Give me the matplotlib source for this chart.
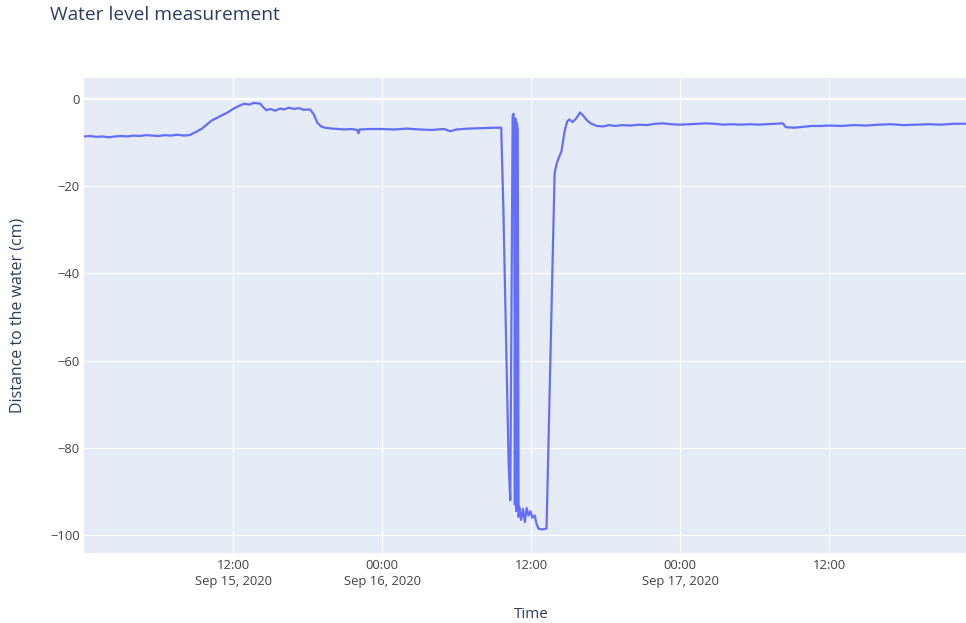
import numpy as np
import pandas as pd
import matplotlib

matplotlib.use('Agg')

import matplotlib.pyplot as plt

# hours after 2020-09-15 00:00 and distance to the water (cm)
hours = [
    0.0, 0.5, 1.0, 1.5, 2.0, 2.5, 3.0, 3.5, 4.0, 4.5, 5.0, 5.5, 6.0, 6.5, 7.0,
    7.5, 8.0, 8.5, 9.0, 9.5, 10.0, 10.3, 10.6, 11.0, 11.5, 12.0, 12.4, 12.9,
    13.3, 13.7, 14.2, 14.4, 14.7, 15.0, 15.4, 15.8, 16.1, 16.5, 16.9, 17.3,
    17.7, 18.2, 18.5, 18.8, 19.1, 19.4, 20.0, 20.5, 21.0, 21.5, 22.0, 22.1,
    22.2, 23.0, 24.0, 25.0, 26.0, 27.0, 28.0, 29.0, 29.5, 30.0, 31.0, 32.0,
    33.0, 33.6, 33.72, 33.78, 34.2, 34.33, 34.52, 34.58, 34.64, 34.70, 34.74,
    34.80, 34.86, 34.93, 35.0, 35.05, 35.2, 35.35, 35.5, 35.65, 35.8, 35.95,
    36.1, 36.3, 36.45, 36.6, 36.9, 37.1, 37.25, 37.9, 38.1, 38.45, 38.7, 38.9,
    39.1, 39.35, 39.6, 39.95, 40.2, 40.5, 40.8, 41.3, 41.8, 42.3, 42.8, 43.3,
    44.0, 44.7, 45.3, 46.0, 46.6, 47.3, 48.0, 48.7, 49.4, 50.1, 50.8, 51.5,
    52.2, 52.9, 53.6, 54.3, 55.0, 55.7, 56.3, 56.45, 56.6, 57.2, 57.9, 58.6,
    59.3, 60.0, 61.0, 62.0, 63.0, 64.0, 65.0, 66.0, 67.0, 68.0, 69.0, 70.0,
    71.0, 72.0,
]
distance = [
    -8.6, -8.5, -8.7, -8.6, -8.8, -8.6, -8.5, -8.6, -8.4, -8.5, -8.3, -8.4,
    -8.5, -8.3, -8.4, -8.2, -8.4, -8.3, -7.6, -6.8, -5.6, -4.9, -4.5, -3.9,
    -3.2, -2.3, -1.7, -1.1, -1.3, -0.9, -1.1, -1.8, -2.6, -2.3, -2.7, -2.2,
    -2.4, -2.0, -2.3, -2.1, -2.5, -2.4, -3.5, -5.5, -6.3, -6.6, -6.8, -6.9,
    -7.0, -6.9, -7.1, -7.9, -7.0, -6.9, -6.9, -7.0, -6.8, -7.0, -7.1, -6.9,
    -7.4, -7.0, -6.8, -6.7, -6.6, -6.6, -20.0, -26.0, -84.0, -92.0, -4.0,
    -3.4, -4.8, -93.0, -4.5, -94.5, -5.5, -7.0, -95.8, -93.5, -96.5, -94.0,
    -97.0, -93.8, -95.5, -94.5, -96.0, -95.5, -97.5, -98.5, -98.7, -98.6,
    -98.5, -17.0, -14.5, -12.0, -7.5, -5.2, -4.7, -5.3, -4.6, -3.1, -3.8,
    -4.9, -5.6, -6.2, -6.3, -6.0, -6.2, -6.0, -6.1, -5.9, -6.0, -5.7, -5.6,
    -5.8, -5.9, -5.8, -5.7, -5.6, -5.7, -5.9, -5.8, -5.9, -5.8, -5.9, -5.8,
    -5.7, -5.6, -6.3, -6.5, -6.6, -6.4, -6.2, -6.2, -6.1, -6.2, -6.0, -6.1,
    -5.9, -5.8, -6.0, -5.9, -5.8, -5.9, -5.7, -5.7, -5.6,
]

start = pd.Timestamp('2020-09-15 00:00')
times = start + pd.to_timedelta(hours, unit='h')

xtick_times = pd.to_datetime(['2020-09-15 12:00', '2020-09-16 00:00', '2020-09-16 12:00',
                              '2020-09-17 00:00', '2020-09-17 12:00'])
xtick_labels = ['12:00\nSep 15, 2020', '00:00\nSep 16, 2020', '12:00',
                '00:00\nSep 17, 2020', '12:00']
ytick_values = [0, -20, -40, -60, -80, -100]

plt.rcParams['font.family'] = ['Open Sans', 'DejaVu Sans']
text_color = '#2a3f5f'

W, H = 966, 623
fig = plt.figure(figsize=(W / 100, H / 100), dpi=100)
left, right, top, bottom = 84, 966, 78, 553
ax = fig.add_axes([left / W, 1 - bottom / H, (right - left) / W, (bottom - top) / H])
ax.set_facecolor('#E5ECF6')
for s in ax.spines.values():
    s.set_visible(False)

ax.grid(True, color='white', linewidth=0.8)
ax.set_axisbelow(True)
ax.axhline(0, color='white', linewidth=1.6, zorder=1)

ax.plot(times, distance, color='#636EFA', linewidth=1.6, zorder=3)

ax.set_xlim(start, start + pd.Timedelta(hours=71.03))
ax.set_ylim(-104.1, 4.8)

ax.set_xticks(xtick_times)
ax.set_xticklabels(xtick_labels)
for lbl in ax.get_xticklabels():
    lbl.set_linespacing(1.35)
ax.set_yticks(ytick_values)
ax.set_yticklabels([str(v).replace('-', '\u2212') for v in ytick_values])
ax.tick_params(axis='both', length=0, labelsize=9.4, labelcolor='#444444')
ax.tick_params(axis='x', pad=4)
ax.tick_params(axis='y', pad=3)

ax.set_xlabel('Time', fontsize=11, color=text_color, va='center')
ax.xaxis.set_label_coords((531 - left) / (right - left), (bottom - 614) / (bottom - top))
ax.set_ylabel('Distance to the water (cm)', fontsize=11.5, color=text_color, va='center')
ax.yaxis.set_label_coords((18 - left) / (right - left), 0.5)

fig.text(50 / W, 1 - 15 / H, 'Water level measurement', fontsize=13.8,
         color=text_color, ha='left', va='center')

fig.savefig('out.png', dpi=100)
